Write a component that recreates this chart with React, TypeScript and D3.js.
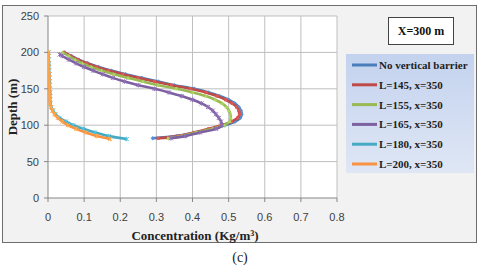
import * as d3 from "d3";

// depth (m) and concentration (Kg/m3)
const depthUpper = [200, 195, 190, 185, 180, 175, 170, 165, 160, 155, 150, 145, 140, 135, 130, 125, 120, 115, 110, 105, 100, 95, 90, 85, 82];
const noBarrier = [0.045, 0.065, 0.085, 0.11, 0.14, 0.175, 0.215, 0.26, 0.305, 0.35, 0.405, 0.445, 0.475, 0.5, 0.517, 0.528, 0.534, 0.536, 0.532, 0.518, 0.49, 0.455, 0.41, 0.355, 0.29];
const l145 = [0.045, 0.063, 0.083, 0.107, 0.135, 0.168, 0.207, 0.25, 0.295, 0.342, 0.395, 0.437, 0.468, 0.492, 0.51, 0.522, 0.528, 0.53, 0.525, 0.508, 0.48, 0.445, 0.405, 0.36, 0.305];
const l155 = [0.04, 0.058, 0.075, 0.095, 0.12, 0.148, 0.182, 0.222, 0.262, 0.305, 0.355, 0.4, 0.437, 0.463, 0.482, 0.494, 0.501, 0.505, 0.506, 0.503, 0.488, 0.455, 0.41, 0.37, 0.332];
const depthL165 = [197, 195, 190, 185, 180, 175, 170, 165, 160, 155, 150, 145, 140, 135, 130, 125, 120, 115, 110, 105, 100, 95, 90, 85, 82];
const l165 = [0.032, 0.04, 0.058, 0.078, 0.1, 0.125, 0.152, 0.18, 0.212, 0.25, 0.295, 0.335, 0.37, 0.4, 0.425, 0.443, 0.456, 0.465, 0.473, 0.479, 0.482, 0.465, 0.42, 0.38, 0.34];
const depthLower = [200, 195, 190, 185, 180, 175, 170, 165, 160, 155, 150, 145, 140, 135, 130, 125, 120, 115, 110, 105, 100, 95, 90, 85, 81];
const l180 = [0.002, 0.002, 0.002, 0.003, 0.003, 0.003, 0.004, 0.004, 0.005, 0.005, 0.005, 0.006, 0.006, 0.006, 0.007, 0.009, 0.014, 0.021, 0.032, 0.05, 0.07, 0.098, 0.13, 0.168, 0.218];
const l200 = [0.001, 0.001, 0.001, 0.002, 0.002, 0.002, 0.003, 0.003, 0.003, 0.004, 0.004, 0.004, 0.005, 0.005, 0.005, 0.008, 0.012, 0.018, 0.027, 0.04, 0.055, 0.078, 0.105, 0.135, 0.172];

const seriesNames = ["No vertical barrier", "L=145, x=350", "L=155, x=350", "L=165, x=350", "L=180, x=350", "L=200, x=350"];
const seriesColors = ["#4a7ebb", "#be4b48", "#98b954", "#7d60a0", "#46aac5", "#f69240"];
const seriesValues = [noBarrier, l145, l155, l165, l180, l200];
const seriesDepths = [depthUpper, depthUpper, depthUpper, depthL165, depthLower, depthLower];

const xTicks = [0, 0.1, 0.2, 0.3, 0.4, 0.5, 0.6, 0.7, 0.8];
const yTicks = [0, 50, 100, 150, 200, 250];

const W = 480;
const H = 270;
const plot = { left: 48, right: 337, top: 16, bottom: 198 };

export default function App() {
  const x = d3.scaleLinear().domain([0, 0.8]).range([plot.left, plot.right]);
  const y = d3.scaleLinear().domain([0, 250]).range([plot.bottom, plot.top]);

  const line = d3
    .line<[number, number]>()
    .x(d => x(d[0]))
    .y(d => y(d[1]))
    .curve(d3.curveCatmullRom);

  const serif = "'Liberation Serif', 'DejaVu Serif', serif";
  const sans = "'Liberation Sans', Arial, sans-serif";

  const marker = (i: number, cx: number, cy: number, key: string) => {
    const c = d3.color(seriesColors[i])!.brighter(0.4).toString();
    if (i === 0)
      return <path key={key} d={`M${cx},${cy - 2.2}L${cx + 2.2},${cy}L${cx},${cy + 2.2}L${cx - 2.2},${cy}Z`} fill={c} />;
    if (i === 1) return <rect key={key} x={cx - 1.6} y={cy - 1.6} width={3.2} height={3.2} fill={c} />;
    if (i === 2) return <path key={key} d={`M${cx},${cy - 2.2}L${cx + 2},${cy + 1.5}L${cx - 2},${cy + 1.5}Z`} fill={c} />;
    return (
      <path
        key={key}
        d={`M${cx - 2},${cy - 2}L${cx + 2},${cy + 2}M${cx - 2},${cy + 2}L${cx + 2},${cy - 2}M${cx},${cy - 2.3}V${cy + 2.3}`}
        stroke={c}
        strokeWidth={1}
      />
    );
  };

  const legendTop = 65;
  const legendStep = 19.8;

  return (
    <svg width={W} height={H} style={{ position: "fixed", left: 0, top: 0, background: "#fff" }}>
      <defs>
        <linearGradient id="legbg" x1="0" y1="0" x2="0" y2="1">
          <stop offset="0" stopColor="#c3d2ee" />
          <stop offset="1" stopColor="#dfe7f5" />
        </linearGradient>
        <clipPath id="plotclip">
          <rect x={plot.left} y={plot.top} width={plot.right - plot.left} height={plot.bottom - plot.top} />
        </clipPath>
      </defs>
      <rect x={2.5} y={5.5} width={474} height={237} fill="#f2f2f2" stroke="#6d6d6d" strokeWidth={1} />
      <rect x={plot.left} y={plot.top} width={plot.right - plot.left} height={plot.bottom - plot.top} fill="#fff" />

      {xTicks.slice(1).map(t => (
        <line key={"gx" + t} x1={x(t)} x2={x(t)} y1={plot.top} y2={plot.bottom} stroke="#bfbfbf" />
      ))}
      {yTicks.slice(1).map(t => (
        <line key={"gy" + t} x1={plot.left} x2={plot.right} y1={y(t)} y2={y(t)} stroke="#bfbfbf" />
      ))}
      <line x1={plot.left} x2={plot.right} y1={plot.bottom} y2={plot.bottom} stroke="#868686" />
      <line x1={plot.left} x2={plot.left} y1={plot.top} y2={plot.bottom} stroke="#868686" />
      {xTicks.map(t => (
        <line key={"tx" + t} x1={x(t)} x2={x(t)} y1={plot.bottom} y2={plot.bottom + 4} stroke="#868686" />
      ))}
      {yTicks.map(t => (
        <line key={"ty" + t} x1={plot.left - 4} x2={plot.left} y1={y(t)} y2={y(t)} stroke="#868686" />
      ))}
      {xTicks.map(t => (
        <text key={"lx" + t} x={x(t)} y={221} textAnchor="middle" fontFamily={sans} fontSize={11} fill="#404040">
          {t}
        </text>
      ))}
      {yTicks.map(t => (
        <text key={"ly" + t} x={39} y={y(t) + 4} textAnchor="end" fontFamily={sans} fontSize={11} fill="#404040">
          {t}
        </text>
      ))}

      <g clipPath="url(#plotclip)">
        {seriesValues.map((vals, i) => {
          const pts = vals.map((v, j) => [v, seriesDepths[i][j]] as [number, number]);
          return (
            <g key={"s" + i}>
              <path d={line(pts) ?? ""} fill="none" stroke={seriesColors[i]} strokeWidth={2.6} />
              {pts.map((p, j) => marker(i, x(p[0]), y(p[1]), `m${i}-${j}`))}
            </g>
          );
        })}
      </g>

      <text
        transform={`translate(17,${(plot.top + plot.bottom) / 2}) rotate(-90)`}
        textAnchor="middle"
        fontFamily={serif}
        fontWeight="bold"
        fontSize={13}
        fill="#222"
      >
        Depth (m)
      </text>
      <text x={195} y={240} textAnchor="middle" fontFamily={serif} fontWeight="bold" fontSize={13} fill="#222">
        Concentration (Kg/m<tspan dy={-4} fontSize={8}>3</tspan>
        <tspan dy={4}>)</tspan>
      </text>

      <rect x={388.5} y={17.5} width={65} height={27} fill="#fff" stroke="#444" />
      <text x={421} y={35} textAnchor="middle" fontFamily={serif} fontWeight="bold" fontSize={12} fill="#111">
        X=300 m
      </text>

      <rect x={346} y={54} width={128} height={119} fill="url(#legbg)" />
      {seriesNames.map((name, i) => {
        const ly = legendTop + i * legendStep;
        return (
          <g key={"lg" + i}>
            <line x1={352} x2={377} y1={ly} y2={ly} stroke={seriesColors[i]} strokeWidth={3} />
            <text x={379} y={ly + 4} fontFamily={serif} fontWeight="bold" fontSize={11} fill="#222">
              {name}
            </text>
          </g>
        );
      })}

      <text x={240} y={262} textAnchor="middle" fontFamily={serif} fontSize={14} fill="#222">
        (c)
      </text>
    </svg>
  );
}
